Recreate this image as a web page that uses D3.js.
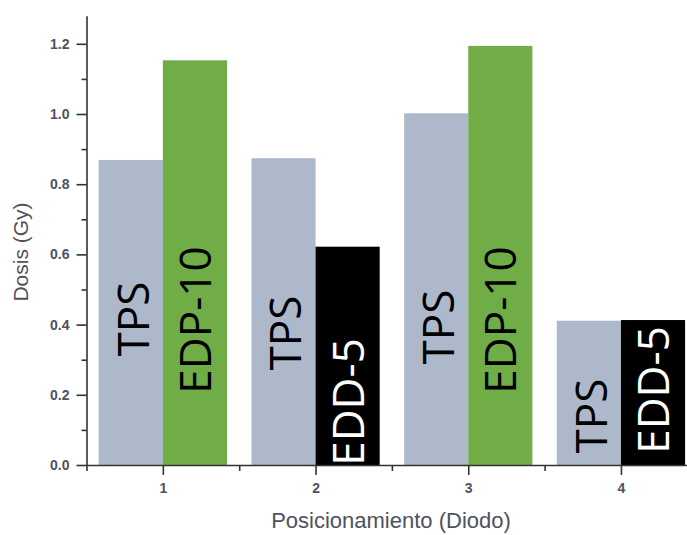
<!DOCTYPE html>
<html>
<head>
<meta charset="utf-8">
<script src="https://cdn.jsdelivr.net/npm/d3@7"></script>
<style>
  body { margin: 0; background: #fff; }
  svg { display: block; }
</style>
</head>
<body>
<script>
// datos
const posiciones = [1, 2, 3, 4];
const dosisTPS = [0.869, 0.874, 1.002, 0.411];
const dosisDiodo = [1.153, 0.622, 1.194, 0.413];
const nombreDiodo = ["EDP-10", "EDD-5", "EDP-10", "EDD-5"];
const yTicks = [0, 0.2, 0.4, 0.6, 0.8, 1.0, 1.2];
const yMinor = [0.1, 0.3, 0.5, 0.7, 0.9, 1.1];
const xMinor = [0.5, 1.5, 2.5, 3.5];

const width = 687;
const height = 535;

const svg = d3.select("body")
  .append("svg")
  .attr("width", width)
  .attr("height", height);

// escalas
const x = d3.scaleLinear().domain([0.5, 4.5]).range([86.5, 86.5 + 4 * 152.7]);
const y = d3.scaleLinear().domain([0, 1.28]).range([465, 465 - 1.28 * 351]);
const bw = x(0.42) - x(0); // ancho de cada barra

const colorDiodo = { "EDP-10": "#70ad47", "EDD-5": "#000000" };
const textoDiodo = { "EDP-10": "#000000", "EDD-5": "#ffffff" };

const data = posiciones.map((p, i) => ({
  pos: p, tps: dosisTPS[i], diodo: dosisDiodo[i], nombre: nombreDiodo[i]
}));

// barras TPS (a la izquierda del tick)
svg.append("g")
  .selectAll("rect")
  .data(data)
  .join("rect")
  .attr("x", (d) => x(d.pos) - bw)
  .attr("y", (d) => y(d.tps))
  .attr("width", bw)
  .attr("height", (d) => y(0) - y(d.tps))
  .attr("fill", "#adb9ca");

// barras del diodo (a la derecha del tick)
svg.append("g")
  .selectAll("rect")
  .data(data)
  .join("rect")
  .attr("x", (d) => x(d.pos))
  .attr("y", (d) => y(d.diodo))
  .attr("width", bw)
  .attr("height", (d) => y(0) - y(d.diodo))
  .attr("fill", (d) => colorDiodo[d.nombre]);

// ejes
const axisStyle = (g) => {
  g.select(".domain").attr("stroke", "#333").attr("stroke-width", 1.6);
  g.selectAll(".tick line").attr("stroke", "#333").attr("stroke-width", 1.6);
  g.selectAll(".tick text")
    .attr("fill", "#4f5260")
    .style("font-family", "'Liberation Sans', Arial, sans-serif")
    .style("font-size", "14px")
    .style("font-weight", "bold");
};

svg.append("g")
  .attr("transform", `translate(${x(0.5)},0)`)
  .call(d3.axisLeft(y).tickValues(yMinor).tickSize(5).tickFormat("").tickSizeOuter(0))
  .call(axisStyle)
  .call((g) => g.select(".domain").remove());

svg.append("g")
  .attr("transform", `translate(${x(0.5)},0)`)
  .call(d3.axisLeft(y).tickValues(yTicks).tickSize(10).tickPadding(7)
    .tickFormat(d3.format(".1f")).tickSizeOuter(0))
  .call(axisStyle);

svg.append("g")
  .attr("transform", `translate(0,${y(0)})`)
  .call(d3.axisBottom(x).tickValues(xMinor).tickSize(6).tickFormat("").tickSizeOuter(0))
  .call(axisStyle)
  .call((g) => g.select(".domain").remove());

svg.append("g")
  .attr("transform", `translate(0,${y(0)})`)
  .call(d3.axisBottom(x).tickValues(posiciones).tickSize(10).tickPadding(8)
    .tickFormat(d3.format("d")).tickSizeOuter(0))
  .call(axisStyle);

// rotulos dentro de las barras
const labelFont = "'Open Sans', 'Noto Sans', sans-serif";
const tpsMid = [319, 333, 327, 416];
const diodoMid = [320, 402, 320, 390];

svg.append("g")
  .selectAll("text")
  .data(data)
  .join("text")
  .attr("transform", (d, i) => `translate(${x(d.pos) - bw / 2 + 18},${tpsMid[i]}) rotate(-90)`)
  .attr("text-anchor", "middle")
  .style("font-family", labelFont)
  .style("font-size", "44px")
  .attr("fill", "#000")
  .text("TPS");

svg.append("g")
  .selectAll("text")
  .data(data)
  .join("text")
  .attr("transform", (d, i) => `translate(${x(d.pos) + bw / 2 + 16},${diodoMid[i]}) rotate(-90)`)
  .attr("text-anchor", "middle")
  .style("font-family", labelFont)
  .style("font-size", "44px")
  .attr("fill", (d) => textoDiodo[d.nombre])
  .text((d) => d.nombre);

// titulos de los ejes
svg.append("text")
  .attr("x", 391)
  .attr("y", 528)
  .attr("text-anchor", "middle")
  .attr("fill", "#4f5260")
  .style("font-family", "'Liberation Sans', Arial, sans-serif")
  .style("font-size", "22px")
  .text("Posicionamiento (Diodo)");

svg.append("text")
  .attr("transform", "translate(28,252) rotate(-90)")
  .attr("text-anchor", "middle")
  .attr("fill", "#4f5260")
  .style("font-family", "'Liberation Sans', Arial, sans-serif")
  .style("font-size", "21px")
  .text("Dosis (Gy)");
</script>
</body>
</html>
